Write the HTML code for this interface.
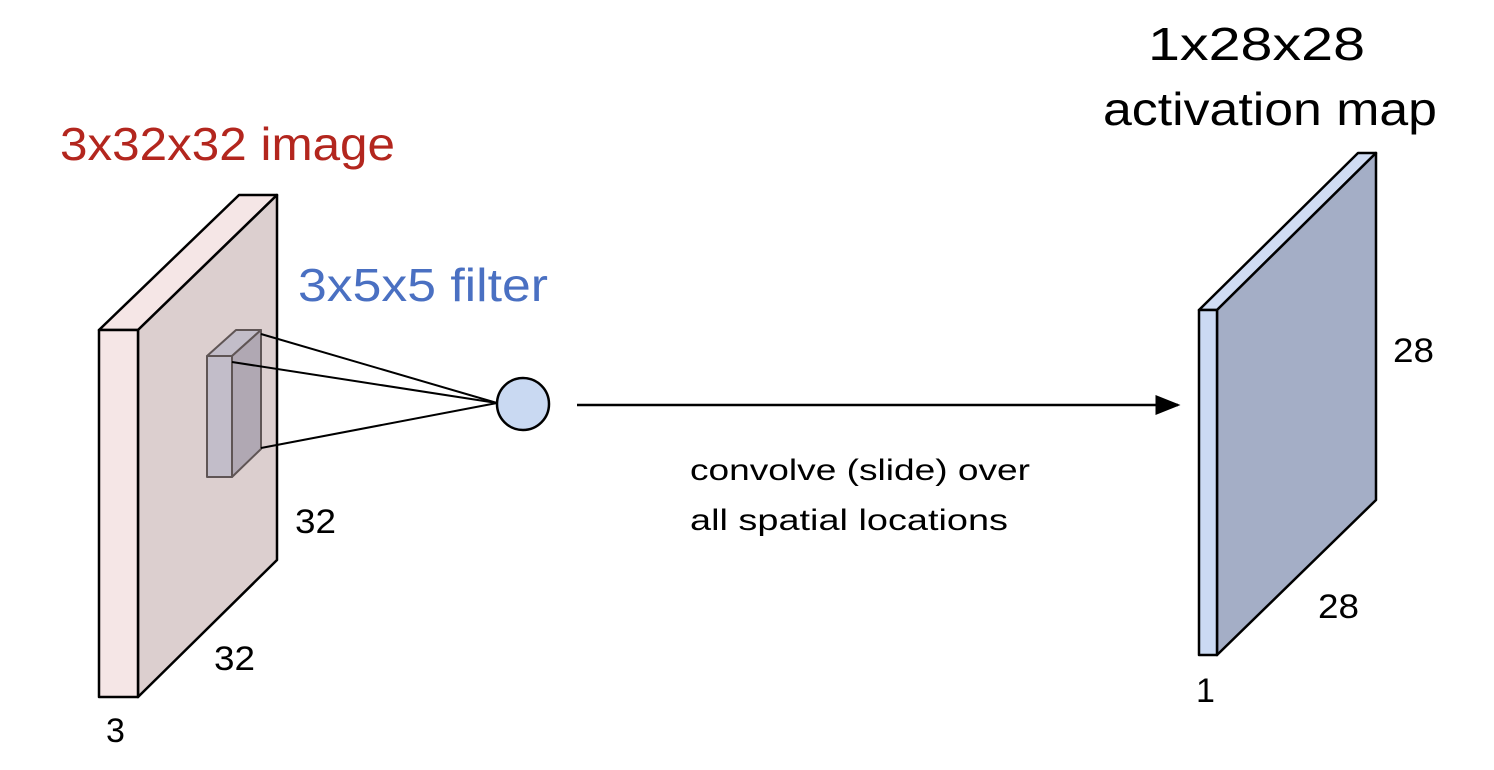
<!DOCTYPE html>
<html><head><meta charset="utf-8"><style>
html,body{margin:0;padding:0;background:#fff;}
svg{display:block;font-family:"Liberation Sans",sans-serif;}
</style></head><body>
<svg width="1494" height="770" viewBox="0 0 1494 770">
<defs><marker id="ah" markerWidth="10" markerHeight="8" refX="9" refY="4" orient="auto"><path d="M0,0 L10,4 L0,8 z" fill="#000"/></marker></defs>
<g stroke="#000" stroke-width="2.5" stroke-linejoin="round">
<polygon points="99,330 239,195 277,195 138,330" fill="#f5e6e6"/>
<polygon points="138,330 277,195 277,560 138,697" fill="#dccfcf"/>
<rect x="99" y="330" width="39" height="367" fill="#f5e6e6"/>
</g>
<g stroke="#5f5555" stroke-width="2" stroke-linejoin="round">
<polygon points="207,356 236,330 261,330 232,356" fill="#c2bdc9"/>
<polygon points="232,356 261,330 261,449 232,477" fill="#b0a8b3"/>
<rect x="207" y="356" width="25" height="121" fill="#c2bdc9"/>
</g>
<g stroke="#000" stroke-width="2">
<line x1="261" y1="334" x2="497" y2="403"/>
<line x1="232" y1="362" x2="497" y2="403"/>
<line x1="261" y1="448" x2="497" y2="403"/>
</g>
<ellipse cx="523" cy="404" rx="26" ry="26" fill="#c9d9f2" stroke="#000" stroke-width="2.5"/>
<line x1="577" y1="405" x2="1178" y2="405" stroke="#000" stroke-width="2.5" marker-end="url(#ah)"/>
<g stroke="#000" stroke-width="2.5" stroke-linejoin="round">
<polygon points="1199,310 1358,153 1376,153 1217,310" fill="#d0dcf3"/>
<polygon points="1217,310 1376,153 1376,500 1217,655" fill="#a4aec6"/>
<rect x="1199" y="310" width="18" height="345" fill="#cbdaf3"/>
</g>
<text x="60" y="160" font-size="46" fill="#b3261e" textLength="335" lengthAdjust="spacingAndGlyphs">3x32x32 image</text>
<text x="298" y="301" font-size="46" fill="#4a70c2" textLength="250" lengthAdjust="spacingAndGlyphs">3x5x5 filter</text>
<text x="1148" y="60" font-size="46" fill="#000" textLength="217" lengthAdjust="spacingAndGlyphs">1x28x28</text>
<text x="1103" y="125" font-size="46" fill="#000" textLength="334" lengthAdjust="spacingAndGlyphs">activation map</text>
<text x="690" y="480" font-size="30" fill="#000" textLength="340" lengthAdjust="spacingAndGlyphs">convolve (slide) over</text>
<text x="690" y="530" font-size="30" fill="#000" textLength="318" lengthAdjust="spacingAndGlyphs">all spatial locations</text>
<g font-size="34" fill="#000">
<text x="295" y="533" textLength="41" lengthAdjust="spacingAndGlyphs">32</text>
<text x="214" y="670" textLength="41" lengthAdjust="spacingAndGlyphs">32</text>
<text x="106" y="742">3</text>
<text x="1393" y="362" textLength="41" lengthAdjust="spacingAndGlyphs">28</text>
<text x="1318" y="618" textLength="41" lengthAdjust="spacingAndGlyphs">28</text>
<text x="1196" y="702">1</text>
</g>
</svg>
</body></html>
